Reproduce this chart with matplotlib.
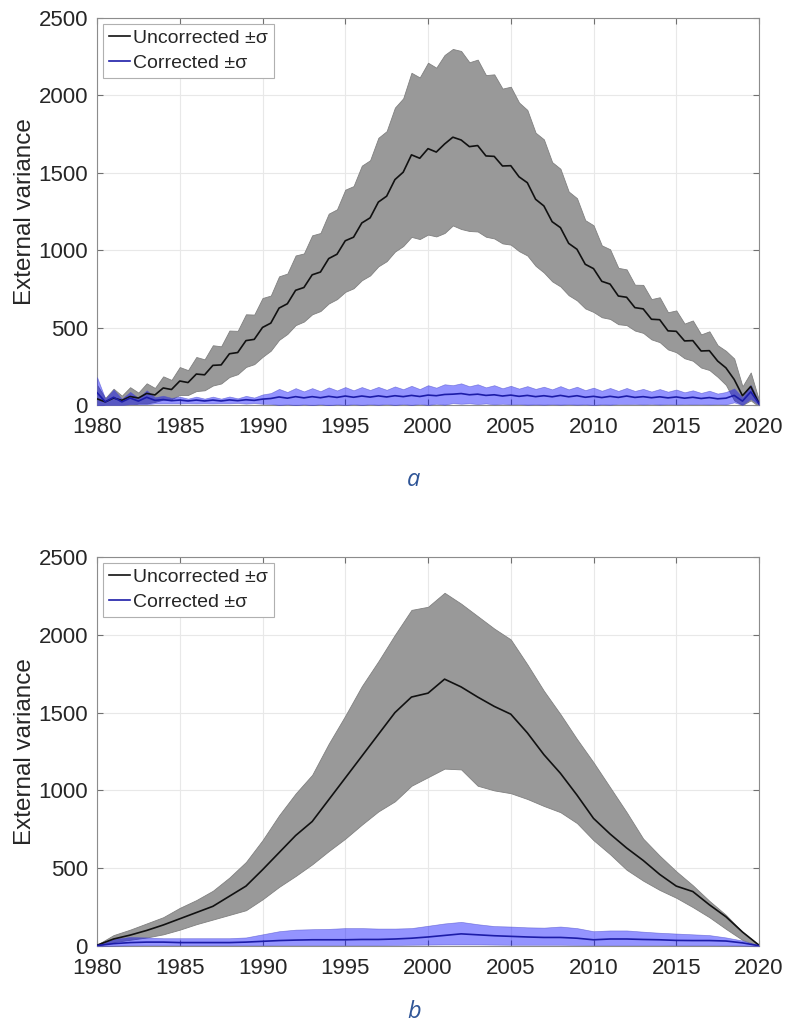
import numpy as np
import matplotlib
matplotlib.use("Agg")
import matplotlib.pyplot as plt

plt.rcParams["font.family"] = ["Liberation Sans", "DejaVu Sans"]

# panel a: half-year steps 1980.0 .. 2020.0, mean and sigma
t_a = np.arange(1980.0, 2020.01, 0.5)

unc_mean_a = [40, 20, 45, 30, 55, 45, 75, 65, 110, 100,
              155, 145, 200, 195, 256, 259, 331, 339, 416, 424,
              501, 529, 626, 654, 741, 759, 841, 859, 946, 974,
              1061, 1084, 1176, 1209, 1311, 1349, 1456, 1504, 1616, 1594,
              1656, 1634, 1686, 1730, 1712, 1669, 1676, 1609, 1606, 1544,
              1546, 1474, 1436, 1329, 1286, 1184, 1146, 1044, 1006, 909,
              881, 799, 781, 704, 696, 629, 621, 554, 551, 479,
              476, 414, 416, 349, 351, 284, 240, 165, 60, 120,
              10]
unc_sd_a = [90, 25, 60, 30, 60, 35, 65, 45, 75, 62,
            90, 80, 110, 100, 130, 120, 150, 140, 170, 160,
            190, 178, 205, 195, 225, 220, 255, 252, 290, 290,
            330, 330, 370, 372, 415, 420, 465, 477, 530, 522,
            555, 545, 575, 570, 575, 545, 555, 522, 530, 500,
            510, 480, 470, 430, 430, 385, 380, 335, 330, 285,
            280, 232, 225, 182, 180, 148, 155, 130, 145, 120,
            135, 112, 130, 107, 125, 102, 110, 135, 60, 90,
            20]
cor_mean_a = [80, 20, 50, 20, 45, 25, 50, 30, 35, 28,
              32, 26, 32, 26, 32, 26, 33, 28, 34, 30,
              38, 42, 52, 44, 54, 46, 54, 47, 56, 49,
              58, 50, 58, 51, 59, 52, 60, 54, 62, 55,
              64, 60, 68, 70, 74, 66, 70, 62, 66, 58,
              64, 56, 62, 54, 60, 53, 62, 53, 60, 50,
              56, 48, 56, 49, 58, 49, 54, 47, 53, 46,
              52, 44, 50, 42, 48, 40, 44, 62, 25, 85,
              10]
cor_sd_a = [100, 20, 50, 20, 40, 20, 45, 20, 25, 18,
            22, 15, 22, 15, 22, 15, 22, 15, 25, 18,
            30, 35, 52, 40, 55, 42, 55, 42, 58, 45,
            58, 45, 58, 46, 58, 46, 60, 48, 62, 48,
            64, 52, 66, 58, 66, 55, 64, 52, 62, 50,
            60, 50, 60, 50, 58, 48, 60, 48, 58, 46,
            56, 44, 54, 42, 52, 42, 50, 40, 50, 40,
            48, 38, 45, 36, 44, 34, 40, 45, 25, 45,
            10]

# panel b: yearly steps 1980 .. 2020, mean with lower / upper band edge
t_b = np.arange(1980, 2021)

unc_mean_b = [5, 45, 70, 100, 135, 175, 215, 255, 320, 385,
              490, 600, 710, 800, 940, 1080, 1220, 1360, 1500, 1600,
              1625, 1715, 1665, 1600, 1540, 1490, 1370, 1230, 1110, 970,
              820, 720, 630, 550, 460, 385, 350, 265, 188, 90,
              5]
unc_lo_b = [2, 25, 40, 55, 75, 105, 140, 170, 200, 230,
            300, 380, 450, 525, 610, 690, 780, 865, 930, 1030,
            1085, 1140, 1135, 1030, 1000, 982, 945, 900, 860, 790,
            680, 590, 490, 420, 360, 310, 250, 185, 110, 39,
            2]
unc_hi_b = [8, 70, 105, 145, 185, 245, 295, 355, 440, 540,
            680, 840, 980, 1100, 1300, 1480, 1670, 1830, 2000, 2160,
            2180, 2270, 2200, 2120, 2040, 1970, 1810, 1640, 1490, 1330,
            1180, 1020, 860, 690, 580, 480, 390, 290, 200, 90,
            5]
cor_mean_b = [3, 15, 22, 25, 25, 22, 22, 22, 22, 25,
              30, 35, 38, 40, 40, 40, 42, 42, 45, 50,
              58, 68, 78, 72, 66, 62, 58, 55, 55, 50,
              40, 45, 45, 42, 40, 36, 35, 35, 32, 20,
              2]
cor_lo_b = [0, 2, 4, 5, 5, 5, 5, 5, 5, 5,
            5, 6, 6, 6, 6, 6, 6, 6, 7, 8,
            9, 10, 10, 10, 9, 8, 8, 8, 8, 7,
            6, 6, 6, 6, 6, 5, 5, 5, 4, 3,
            0]
cor_hi_b = [5, 45, 58, 55, 50, 50, 50, 50, 50, 55,
            75, 95, 105, 108, 110, 115, 115, 112, 112, 115,
            130, 145, 155, 140, 128, 125, 120, 118, 125, 115,
            95, 100, 100, 92, 85, 80, 75, 70, 55, 35,
            2]

labels = ["Uncorrected ±σ", "Corrected ±σ"]
xticks = [1980, 1985, 1990, 1995, 2000, 2005, 2010, 2015, 2020]
yticks = [0, 500, 1000, 1500, 2000, 2500]

fig = plt.figure(figsize=(7.85, 10.30), dpi=100)
ax_a = fig.add_axes([0.1236, 1 - 405 / 1030, 0.8433, 387 / 1030])
ax_b = fig.add_axes([0.1236, 1 - 946 / 1030, 0.8433, 389 / 1030])


def draw_panel(ax, t, um, ulo, uhi, cm, clo, chi):
    ax.fill_between(t, ulo, uhi, facecolor="#999999",
                    edgecolor="#808080", lw=0.6, zorder=2)
    ax.fill_between(t, clo, chi, facecolor=(0.0, 0.0, 1.0, 0.42),
                    edgecolor=(0.3, 0.3, 0.8, 0.6), lw=0.5, zorder=3)
    l1, = ax.plot(t, um, color="#111111", lw=1.2, zorder=4)
    l2, = ax.plot(t, cm, color="#1c1ca8", lw=1.2, zorder=5)
    ax.set_xlim(1980, 2020)
    ax.set_ylim(0, 2500)
    ax.set_xticks(xticks)
    ax.set_yticks(yticks)
    ax.tick_params(labelsize=16, direction="in", length=4, color="#707070",
                   labelcolor="#262626", top=True, right=True)
    ax.tick_params(axis="y", pad=6.5)
    ax.tick_params(axis="x", pad=8.5)
    ax.grid(True, color="#e8e8e8", lw=0.8, zorder=0)
    ax.set_axisbelow(True)
    for s in ax.spines.values():
        s.set_color("#8c8c8c")
        s.set_linewidth(0.8)
    ax.set_ylabel("External variance", fontsize=17.5, color="#262626",
                  labelpad=2)
    leg = ax.legend([l1, l2], labels, loc="upper left", fontsize=14,
                    handlelength=1.1, handletextpad=0.15, borderpad=0.3,
                    labelspacing=0.35, borderaxespad=0.3, fancybox=False,
                    framealpha=1.0)
    leg.get_frame().set_edgecolor("#b0b0b0")
    leg.get_frame().set_linewidth(0.8)
    for txt in leg.get_texts():
        txt.set_color("#262626")


um_a = np.asarray(unc_mean_a)
us_a = np.asarray(unc_sd_a)
cm_a = np.asarray(cor_mean_a)
cs_a = np.asarray(cor_sd_a)
draw_panel(ax_a, t_a, um_a, um_a - us_a, um_a + us_a,
           cm_a, cm_a - cs_a, cm_a + cs_a)
draw_panel(ax_b, t_b, unc_mean_b, unc_lo_b, unc_hi_b,
           cor_mean_b, cor_lo_b, cor_hi_b)

fig.text(0.527, 1 - 480 / 1030, "a", fontsize=17, style="italic",
         color="#2f5597", ha="center", va="center", family="Open Sans")
fig.text(0.527, 1 - 1012 / 1030, "b", fontsize=17, style="italic",
         color="#2f5597", ha="center", va="center", family="Open Sans")

fig.savefig("out.png", dpi=100)
